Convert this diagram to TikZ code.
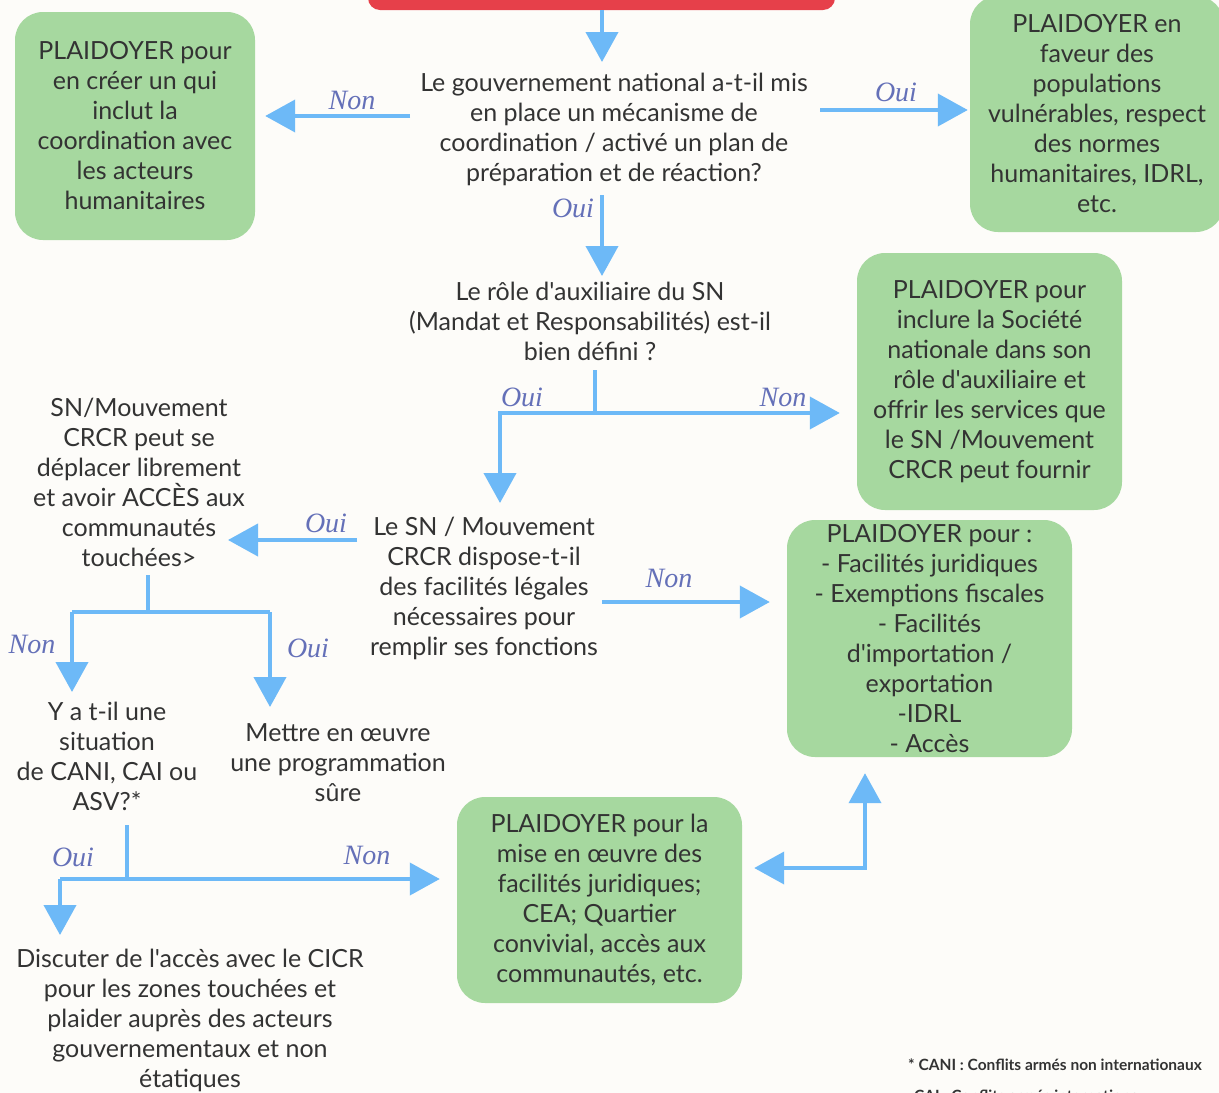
\documentclass[tikz,border=0pt]{standalone}
\usepackage{fontspec}
\setmainfont{Lato}[Ligatures=TeXOff]
\newfontfamily\lblfont{Liberation Serif}
\usetikzlibrary{arrows.meta}
\definecolor{bg}{HTML}{FDFCF9}
\definecolor{gfill}{HTML}{A6D89F}
\definecolor{ablue}{HTML}{6DB9F7}
\definecolor{txt}{HTML}{333333}
\definecolor{lbl}{HTML}{6470B8}
\definecolor{redbox}{HTML}{E6404A}
\begin{document}
\begin{tikzpicture}[x=1pt,y=-1pt,
  txtnode/.style={align=center, text=txt, font=\fontsize{25}{30}\selectfont, inner sep=0pt},
  gbox/.style={txtnode, fill=gfill, rounded corners=28pt, draw=none},
  arr/.style={ablue, line width=4pt, -{Triangle[width=32pt,length=30pt]}},
  darr/.style={ablue, line width=4pt, {Triangle[width=32pt,length=30pt]}-{Triangle[width=32pt,length=30pt]}},
  ln/.style={ablue, line width=4pt},
  lb/.style={text=lbl, font=\lblfont\itshape\fontsize{28}{28}\selectfont, inner sep=0pt},
  fn/.style={text=txt, font=\fontsize{15.5}{17}\selectfont\bfseries, inner sep=0pt}
]
\useasboundingbox[fill=bg] (0,0) rectangle (1219,1093);

% red start box (cut by the top edge)
\node[fill=redbox, rounded corners=12pt, minimum width=467pt, minimum height=50pt, inner sep=0pt] (red) at (601.5,-15) {};

% green boxes
\node[gbox, minimum width=240pt, minimum height=228pt] (tl) at (135,126)
  {PLAIDOYER pour\\en créer un qui\\inclut la\\coordination avec\\les acteurs\\humanitaires};
\node[gbox, minimum width=254pt, minimum height=236pt] (tr) at (1097,114)
  {PLAIDOYER en\\faveur des\\populations\\vulnérables, respect\\des normes\\humanitaires, IDRL,\\etc.};
\node[gbox, minimum width=265pt, minimum height=257pt] (r2) at (989.5,381.5)
  {PLAIDOYER pour\\inclure la Société\\nationale dans son\\rôle d'auxiliaire et\\offrir les services que\\le SN /Mouvement\\CRCR peut fournir};
\node[gbox, minimum width=285pt, minimum height=237pt] (r3) at (929.5,638.5)
  {PLAIDOYER pour :\\- Facilités juridiques\\- Exemptions fiscales\\- Facilités\\d'importation /\\exportation\\-IDRL\\- Accès};
\node[gbox, minimum width=285pt, minimum height=206pt] (bm) at (599.5,900)
  {PLAIDOYER pour la\\mise en œuvre des\\facilités juridiques;\\CEA; Quartier\\convivial, accès aux\\communautés, etc.};

% question / text nodes
\node[txtnode] (q1) at (614,129)
  {Le gouvernement national a-t-il mis\\en place un mécanisme de\\coordination / activé un plan de\\préparation et de réaction?};
\node[txtnode] (q2) at (590,321)
  {Le rôle d'auxiliaire du SN\\(Mandat et Responsabilités) est-il\\bien défini ?};
\node[txtnode] (q3) at (484,588)
  {Le SN / Mouvement\\CRCR dispose-t-il\\des facilités légales\\nécessaires pour\\remplir ses fonctions};
\node[txtnode] (acc) at (139,482)
  {SN/Mouvement\\CRCR peut se\\déplacer librement\\et avoir ACCÈS aux\\communautés\\touchées>};
\node[txtnode] (sit) at (107,756)
  {Y a t-il une\\situation\\de CANI, CAI ou\\ASV?*};
\node[txtnode] (prog) at (338,763)
  {Mettre en œuvre\\une programmation\\sûre};
\node[txtnode] (disc) at (190,1020)
  {Discuter de l'accès avec le CICR\\pour les zones touchées et\\plaider auprès des acteurs\\gouvernementaux et non\\étatiques};

% footnotes
\node[fn, anchor=base west] (fn1) at (908,1070) {* CANI : Conflits armés non internationaux};
\node[fn, anchor=base west] (fn2) at (914,1101) {CAI : Conflits armés internationaux};

% helper coordinates
\coordinate (q1in) at (602,62);
\coordinate (q1w) at (410,116);
\coordinate (q1e) at (820,110);
\coordinate (q1s) at (602,195);
\coordinate (q2in) at (602,276);
\coordinate (q2s) at (595,370);
\coordinate (q2j) at (595,413);
\coordinate (q2l) at (500,413);
\coordinate (q3in) at (500,503);
\coordinate (q3w) at (357,540);
\coordinate (accin) at (228,540);
\coordinate (q3e) at (602,602);
\coordinate (accs) at (148,575);
\coordinate (accj) at (148,612);
\coordinate (accl) at (72,612);
\coordinate (accr) at (270,612);
\coordinate (sitin) at (72,692);
\coordinate (progin) at (270,707);
\coordinate (sits) at (127,825);
\coordinate (sitj) at (127,879);
\coordinate (sitl) at (60,879);
\coordinate (discin) at (60,935);
\coordinate (bmc) at (865,868);

% connectors
\draw[arr] (red.south -| q1in) -- (q1in);
\draw[arr, shorten >=10pt] (q1w) -- (q1w -| tl.east);
\draw[arr, shorten >=2pt] (q1e) -- (q1e -| tr.west);
\draw[arr] (q1s) -- (q2in);
\draw[ln] (q2s) -- (q2j);
\draw[arr, shorten >=17pt] (q2l) -- (q2j -| r2.west);
\draw[arr] (q2j) -- (q2l) -- (q3in);
\draw[arr] (q3w) -- (accin);
\draw[arr, shorten >=17pt] (q3e) -- (q3e -| r3.west);
\draw[ln] (accs) -- (accj);
\draw[ln] (accl) -- (accr);
\draw[arr] (accl) -- (sitin);
\draw[arr] (accr) -- (progin);
\draw[ln] (sits) -- (sitj);
\draw[arr, shorten >=17pt] (sitl) -- (sitl -| bm.west);
\draw[arr] (sitl) -- (discin);
\draw[darr, shorten <=12pt, shorten >=16pt] (bmc -| bm.east) -- (bmc) -- (bmc |- r3.south);

% labels
\node[lb] (l1) at (352,100) {Non};
\node[lb] (l2) at (896,92) {Oui};
\node[lb] (l3) at (573,208) {Oui};
\node[lb] (l4) at (522,397) {Oui};
\node[lb] (l5) at (783,397) {Non};
\node[lb] (l6) at (326,523) {Oui};
\node[lb] (l7) at (669,578) {Non};
\node[lb] (l8) at (32,644) {Non};
\node[lb] (l9) at (308,648) {Oui};
\node[lb] (l10) at (73,857) {Oui};
\node[lb] (l11) at (367,855) {Non};
\end{tikzpicture}
\end{document}
